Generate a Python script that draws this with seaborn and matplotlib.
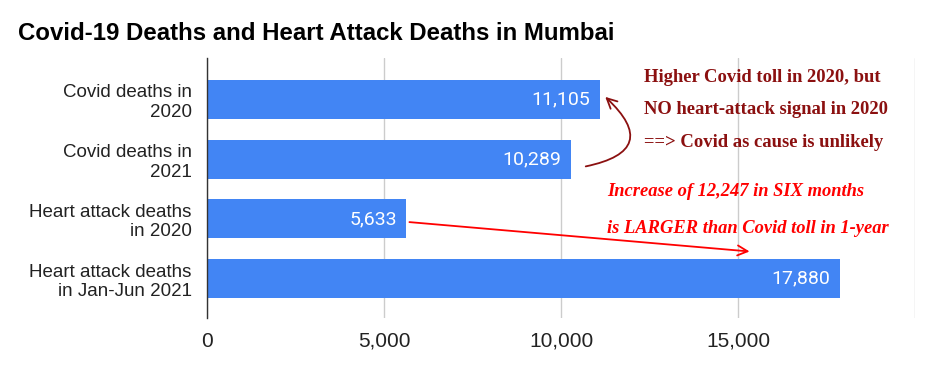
import matplotlib.pyplot as plt
import pandas as pd
import seaborn as sns

categories = [
    "Covid deaths in\n2020",
    "Covid deaths in\n2021",
    "Heart attack deaths\nin 2020",
    "Heart attack deaths\nin Jan-Jun 2021",
]
deaths = [11105, 10289, 5633, 17880]
xticks = [0, 5000, 10000, 15000, 20000]

BAR_COLOR = "#4285F4"
DARK_RED = "#8B1010"

df = pd.DataFrame({"category": categories, "deaths": deaths})

sns.set_theme(style="white")
plt.rcParams["font.family"] = ["Liberation Sans", "DejaVu Sans"]

fig = plt.figure(figsize=(9.32, 3.71), dpi=100)
ax = fig.add_axes([0.222, 0.1429, 0.76, 0.7008])

sns.barplot(data=df, x="deaths", y="category", color=BAR_COLOR, width=0.65,
            saturation=1, linewidth=0, ax=ax, zorder=3)

ax.set_xlim(0, 20000)
ax.set_ylim(3.66, -0.695)
ax.set_xticks(xticks)
ax.set_xticklabels([f"{v:,}" if v < 20000 else "" for v in xticks], fontsize=15, color="#222222")
ax.tick_params(axis="y", labelsize=13.5, labelcolor="#222222", length=0, pad=11)
ax.tick_params(axis="x", length=0, pad=10)
for lbl in ax.get_yticklabels():
    lbl.set_horizontalalignment("right")
    lbl.set_multialignment("right")
ax.set_xlabel("")
ax.set_ylabel("")
ax.grid(axis="x", color="#cccccc", linewidth=1, zorder=0)
for side in ["top", "right", "bottom"]:
    ax.spines[side].set_visible(False)
ax.spines["left"].set_color("#333333")
ax.spines["left"].set_linewidth(1)
ax.spines["left"].set_zorder(4)

texts = ax.bar_label(ax.containers[0], labels=[f"{v:,}" for v in deaths],
                     padding=-7, color="white", fontsize=14, family="Roboto")
for t in texts:
    t.set_horizontalalignment("right")

fig.text(0.019, 1 - 33 / 371, "Covid-19 Deaths and Heart Attack Deaths in Mumbai",
         fontsize=17.3, fontweight="bold", color="black", va="center")

# dark red annotation with curved arrow
note1 = ["Higher Covid toll in 2020, but",
         "NO heart-attack signal in 2020",
         "==> Covid as cause is unlikely"]
for i, line in enumerate(note1):
    fig.text(644 / 932, 1 - (77 + 33 * i) / 371, line, family="Liberation Serif",
             fontweight="bold", fontsize=13.4, color=DARK_RED, va="center")
ax.annotate("", xy=(11190, -0.075), xytext=(10620, 1.13),
            arrowprops=dict(arrowstyle="->", color=DARK_RED, lw=1.3,
                            connectionstyle="arc3,rad=1.0", mutation_scale=18))

# red annotation with straight arrow
note2 = ["Increase of 12,247 in SIX months",
         "is LARGER than Covid toll in 1-year"]
for i, line in enumerate(note2):
    fig.text(607 / 932, 1 - (192 + 36 * i) / 371, line, family="Liberation Serif",
             fontweight="bold", fontstyle="italic", fontsize=13.3, color="#ff0000", va="center")
ax.annotate("", xy=(15400, 2.55), xytext=(5640, 2.05),
            arrowprops=dict(arrowstyle="->", color="#ff0000", lw=1.3, mutation_scale=18))

fig.savefig("out.png", dpi=100)
